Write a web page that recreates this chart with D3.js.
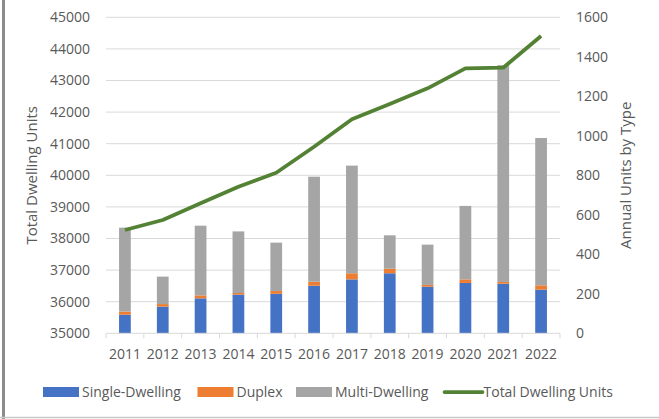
<!DOCTYPE html>
<html>
<head>
<meta charset="utf-8">
<script src="https://cdn.jsdelivr.net/npm/d3@7"></script>
<style>
  body { margin:0; background:#fff; }
  svg { display:block; font-family:"Open Sans", sans-serif; }
</style>
</head>
<body>
<div id="plot"></div>
<script>
// data
var years = ['2011','2012','2013','2014','2015','2016','2017','2018','2019','2020','2021','2022'];
var single = [94,135,177,196,200,241,273,304,236,255,251,221];
var duplex = [16,13,15,8,14,20,31,23,9,18,9,22];
var multi  = [425,139,353,312,245,532,545,169,204,372,1098,746];
var totalUnits = [38270,38585,39114,39640,40082,40905,41772,42256,42753,43386,43405,44408];
var leftTicks = [35000,36000,37000,38000,39000,40000,41000,42000,43000,44000,45000];
var rightTicks = [0,200,400,600,800,1000,1200,1400,1600];

var W = 659, H = 419;
var margin = {t:17.3, l:106, r:99, b:85.7};
var width = W - margin.l - margin.r,
    height = H - margin.t - margin.b;

var svg = d3.select('#plot').append('svg')
  .attr('width', W).attr('height', H);

// frame
svg.append('line').attr('x1',3.5).attr('x2',3.5).attr('y1',0).attr('y2',H)
  .attr('stroke','#8c8c8c').attr('stroke-width',3);
svg.append('line').attr('x1',0).attr('x2',W).attr('y1',417.5).attr('y2',417.5)
  .attr('stroke','#c8c8c8').attr('stroke-width',1.5);

var plot = svg.append('g')
  .attr('transform','translate('+margin.l+','+margin.t+')');

var x = d3.scaleBand().domain(years).range([0,width]);
var yL = d3.scaleLinear().domain([35000,45000]).range([height,0]);
var yR = d3.scaleLinear().domain([0,1600]).range([height,0]);

var textCol = '#595959';

// gridlines
plot.selectAll('.grid').data(leftTicks.slice(1)).enter().append('line')
  .attr('x1',0).attr('x2',width)
  .attr('y1',function(d){return yL(d);}).attr('y2',function(d){return yL(d);})
  .attr('stroke','#d9d9d9').attr('stroke-width',1);

// stacked bars
var rows = years.map(function(y,i){ return {year:y, single:single[i], duplex:duplex[i], multi:multi[i]}; });
var stack = d3.stack().keys(['single','duplex','multi'])(rows);
var colors = {single:'#4472c4', duplex:'#ed7d31', multi:'#a5a5a5'};
var bw = x.bandwidth()*0.31;

stack.forEach(function(layer){
  plot.selectAll('.b'+layer.key).data(layer).enter().append('rect')
    .attr('x', function(d){ return x(d.data.year) + x.bandwidth()/2 - bw/2; })
    .attr('width', bw)
    .attr('y', function(d){ return yR(d[1]); })
    .attr('height', function(d){ return yR(d[0]) - yR(d[1]); })
    .attr('fill', colors[layer.key]);
});

// x axis
var xAxis = plot.append('g').attr('transform','translate(0,'+height+')');
xAxis.append('line').attr('x1',0).attr('x2',width).attr('stroke','#d9d9d9');
xAxis.selectAll('.tk').data(d3.range(years.length+1)).enter().append('line')
  .attr('x1',function(i){return i*x.step();}).attr('x2',function(i){return i*x.step();})
  .attr('y1',0).attr('y2',5).attr('stroke','#d9d9d9');
xAxis.selectAll('text').data(years).enter().append('text')
  .attr('x',function(d){return x(d)+x.bandwidth()/2;})
  .attr('y',26).attr('text-anchor','middle')
  .attr('font-size',14).attr('fill',textCol).text(function(d){return d;});

// left axis
plot.append('g').call(d3.axisLeft(yL).tickValues(leftTicks).tickFormat(d3.format('d')).tickSize(0).tickPadding(16))
  .call(function(g){ g.select('.domain').remove();
    g.selectAll('text').attr('font-size',14).attr('fill',textCol).attr('font-family','"Open Sans", sans-serif'); });

// right axis
plot.append('g').attr('transform','translate('+width+',0)')
  .call(d3.axisRight(yR).tickValues(rightTicks).tickFormat(d3.format('d')).tickSize(0).tickPadding(16))
  .call(function(g){ g.select('.domain').remove();
    g.selectAll('text').attr('font-size',14).attr('fill',textCol).attr('font-family','"Open Sans", sans-serif'); });

// total line
var line = d3.line()
  .x(function(d,i){ return x(years[i]) + x.bandwidth()/2; })
  .y(function(d){ return yL(d); });
plot.append('path').datum(totalUnits)
  .attr('d', line).attr('fill','none')
  .attr('stroke','#548235').attr('stroke-width',3.75).attr('stroke-linejoin','round');

// axis titles
svg.append('text').attr('transform','translate(37,'+(margin.t+height/2)+') rotate(-90)')
  .attr('text-anchor','middle').attr('font-size',15).attr('fill',textCol).text('Total Dwelling Units');
svg.append('text').attr('transform','translate(631,'+(margin.t+height/2)+') rotate(-90)')
  .attr('text-anchor','middle').attr('font-size',15).attr('fill',textCol).text('Annual Units by Type');

// legend
var legend = [
  {name:'Single-Dwelling', type:'rect', color:'#4472c4', x:43},
  {name:'Duplex', type:'rect', color:'#ed7d31', x:197.5},
  {name:'Multi-Dwelling', type:'rect', color:'#a5a5a5', x:296},
  {name:'Total Dwelling Units', type:'line', color:'#548235', x:444.5}
];
var lg = svg.append('g').attr('transform','translate(0,392)');
legend.forEach(function(d){
  if(d.type=='rect'){
    lg.append('rect').attr('x',d.x).attr('y',-5).attr('width',36).attr('height',10).attr('fill',d.color);
  } else {
    lg.append('line').attr('x1',d.x).attr('x2',d.x+38).attr('y1',0).attr('y2',0)
      .attr('stroke',d.color).attr('stroke-width',3.75).attr('stroke-linecap','round');
  }
  lg.append('text').attr('x',d.x+39).attr('y',5).attr('font-size',14).attr('fill',textCol).text(d.name);
});
</script>
</body>
</html>
